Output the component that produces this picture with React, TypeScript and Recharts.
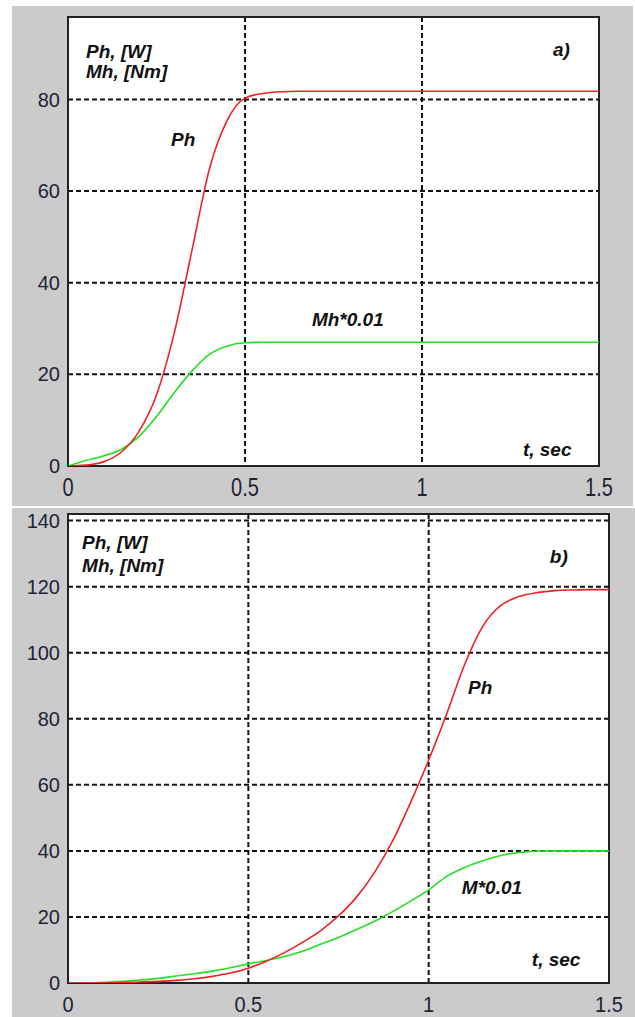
import {
  LineChart,
  Line,
  XAxis,
  YAxis,
  CartesianGrid,
  ReferenceArea,
  ReferenceDot,
} from 'recharts';

// time samples (sec), shared by both panels
const TIME = [
  0, 0.05, 0.1, 0.15, 0.2, 0.25, 0.3, 0.35, 0.4, 0.45, 0.5, 0.55, 0.6, 0.65, 0.7, 0.75,
  0.8, 0.85, 0.9, 0.95, 1.0, 1.05, 1.1, 1.15, 1.2, 1.25, 1.3, 1.35, 1.4, 1.45, 1.5,
];

// panel a)
const PH_A = [
  0, 0.2, 0.9, 3, 7.5, 15.5, 29, 47, 65, 75.5, 80.3, 81.3, 81.7, 81.8, 81.8, 81.8,
  81.8, 81.8, 81.8, 81.8, 81.8, 81.8, 81.8, 81.8, 81.8, 81.8, 81.8, 81.8, 81.8, 81.8, 81.8,
];
const MH_A = [
  0, 1.2, 2.2, 3.6, 6.4, 10.8, 16, 20.7, 24.4, 26.2, 26.9, 27, 27, 27, 27, 27,
  27, 27, 27, 27, 27, 27, 27, 27, 27, 27, 27, 27, 27, 27, 27,
];

// panel b)
const PH_B = [
  0, 0, 0, 0.1, 0.3, 0.5, 0.8, 1.3, 2, 3, 4.5, 6.6, 9.2, 12.3, 15.8, 20.3,
  26, 33.5, 43, 54.7, 67.5, 81.5, 96.5, 108, 114.3, 117, 118.2, 118.8, 119, 119.1, 119.1,
];
const M_B = [
  0, 0, 0.2, 0.5, 0.9, 1.4, 2.1, 2.8, 3.6, 4.6, 5.8, 6.8, 8, 9.6, 11.7, 13.8,
  16.2, 18.7, 21.6, 24.8, 28.2, 32.3, 35, 37, 38.6, 39.5, 39.9, 40, 40, 40, 40,
];

const X_TICKS = [0, 0.5, 1, 1.5];
const Y_TICKS_A = [0, 20, 40, 60, 80];
const Y_TICKS_B = [0, 20, 40, 60, 80, 100, 120, 140];

// annotations: [text, t, value]
const NOTES_A: [string, number, number][] = [
  ['Ph, [W]', 0.051, 90.5],
  ['Mh, [Nm]', 0.051, 86.1],
  ['a)', 1.37, 90.9],
  ['Ph', 0.291, 71.3],
  ['Mh*0.01', 0.689, 31.9],
  ['t, sec', 1.285, 3.7],
];
const NOTES_B: [string, number, number][] = [
  ['Ph, [W]', 0.039, 133.5],
  ['Mh, [Nm]', 0.039, 126.3],
  ['b)', 1.336, 129],
  ['Ph', 1.109, 89.5],
  ['M*0.01', 1.092, 28.8],
  ['t, sec', 1.286, 7.0],
];

const FONT = '"Liberation Sans", Arial, sans-serif';
const RED = '#f22222';
const GREEN = '#22e022';
const PANEL_BG = '#cbcbcb';

function makeXTick(stretch: number) {
  return function XTick({ x, y, payload }: any) {
    return (
      <g transform={`translate(${x},${y})`}>
        <text
          transform={`scale(1,${stretch})`}
          textAnchor="middle"
          dy="0.71em"
          fontFamily={FONT}
          fontSize={20}
          fill="#222233"
        >
          {String(payload.value)}
        </text>
      </g>
    );
  };
}

function noteLabel(text: string) {
  return ({ viewBox }: any) => (
    <text
      x={viewBox.x}
      y={viewBox.y}
      dominantBaseline="central"
      fontFamily={FONT}
      fontWeight="bold"
      fontStyle="italic"
      fontSize={19}
      fill="#111"
    >
      {text}
    </text>
  );
}

interface PanelProps {
  ph: number[];
  mh: number[];
  yMax: number;
  yTicks: number[];
  notes: [string, number, number][];
  width: number;
  height: number;
  margin: { top: number; right: number };
  xAxisHeight: number;
  xTickMargin: number;
  xStretch: number;
}

function Panel(props: PanelProps) {
  const { ph, mh, yMax, yTicks, notes, width, height, margin, xAxisHeight, xTickMargin, xStretch } = props;
  const data = TIME.map((t, i) => ({ t, ph: ph[i], mh: mh[i] }));
  const XTick = makeXTick(xStretch);
  return (
    <LineChart
      width={width}
      height={height}
      data={data}
      margin={{ top: margin.top, right: margin.right, bottom: 0, left: 0 }}
    >
      <CartesianGrid
        fill="#fff"
        fillOpacity={1}
        stroke="#111"
        strokeWidth={2}
        strokeDasharray="5 3"
      />
      <XAxis
        dataKey="t"
        type="number"
        domain={[0, 1.5]}
        ticks={X_TICKS}
        allowDataOverflow
        axisLine={false}
        tickLine={false}
        tickSize={0}
        tickMargin={xTickMargin}
        height={xAxisHeight}
        tick={<XTick />}
      />
      <YAxis
        type="number"
        domain={[0, yMax]}
        ticks={yTicks}
        allowDataOverflow
        axisLine={false}
        tickLine={false}
        tickSize={0}
        tickMargin={8}
        width={56}
        tick={{ fontFamily: FONT, fontSize: 20, fill: '#222233' }}
      />
      <ReferenceArea
        x1={0}
        x2={1.5}
        y1={0}
        y2={yMax}
        fill="none"
        stroke="#222"
        strokeWidth={2}
        strokeOpacity={1}
        ifOverflow="visible"
      />
      <Line
        type="monotone"
        dataKey="mh"
        stroke={GREEN}
        strokeWidth={1.6}
        dot={false}
        isAnimationActive={false}
      />
      <Line
        type="monotone"
        dataKey="ph"
        stroke={RED}
        strokeWidth={1.6}
        dot={false}
        isAnimationActive={false}
      />
      {notes.map(([text, t, v]) => (
        <ReferenceDot
          key={text + t}
          x={t}
          y={v}
          r={0}
          fill="none"
          stroke="none"
          label={noteLabel(text)}
        />
      ))}
    </LineChart>
  );
}

export default function App() {
  return (
    <div
      style={{
        position: 'absolute',
        left: 0,
        top: 0,
        width: 635,
        height: 1017,
        background: '#fff',
        overflow: 'hidden',
      }}
    >
      <div style={{ position: 'absolute', left: 12, top: 6, width: 621, height: 500, background: PANEL_BG }}>
        <Panel
          ph={PH_A}
          mh={MH_A}
          yMax={98}
          yTicks={Y_TICKS_A}
          notes={NOTES_A}
          width={621}
          height={500}
          margin={{ top: 11, right: 34 }}
          xAxisHeight={40}
          xTickMargin={12}
          xStretch={1.3}
        />
      </div>
      <div style={{ position: 'absolute', left: 12, top: 508, width: 623, height: 509, background: PANEL_BG }}>
        <Panel
          ph={PH_B}
          mh={M_B}
          yMax={142}
          yTicks={Y_TICKS_B}
          notes={NOTES_B}
          width={623}
          height={509}
          margin={{ top: 6, right: 26 }}
          xAxisHeight={34}
          xTickMargin={13}
          xStretch={1.12}
        />
      </div>
    </div>
  );
}
